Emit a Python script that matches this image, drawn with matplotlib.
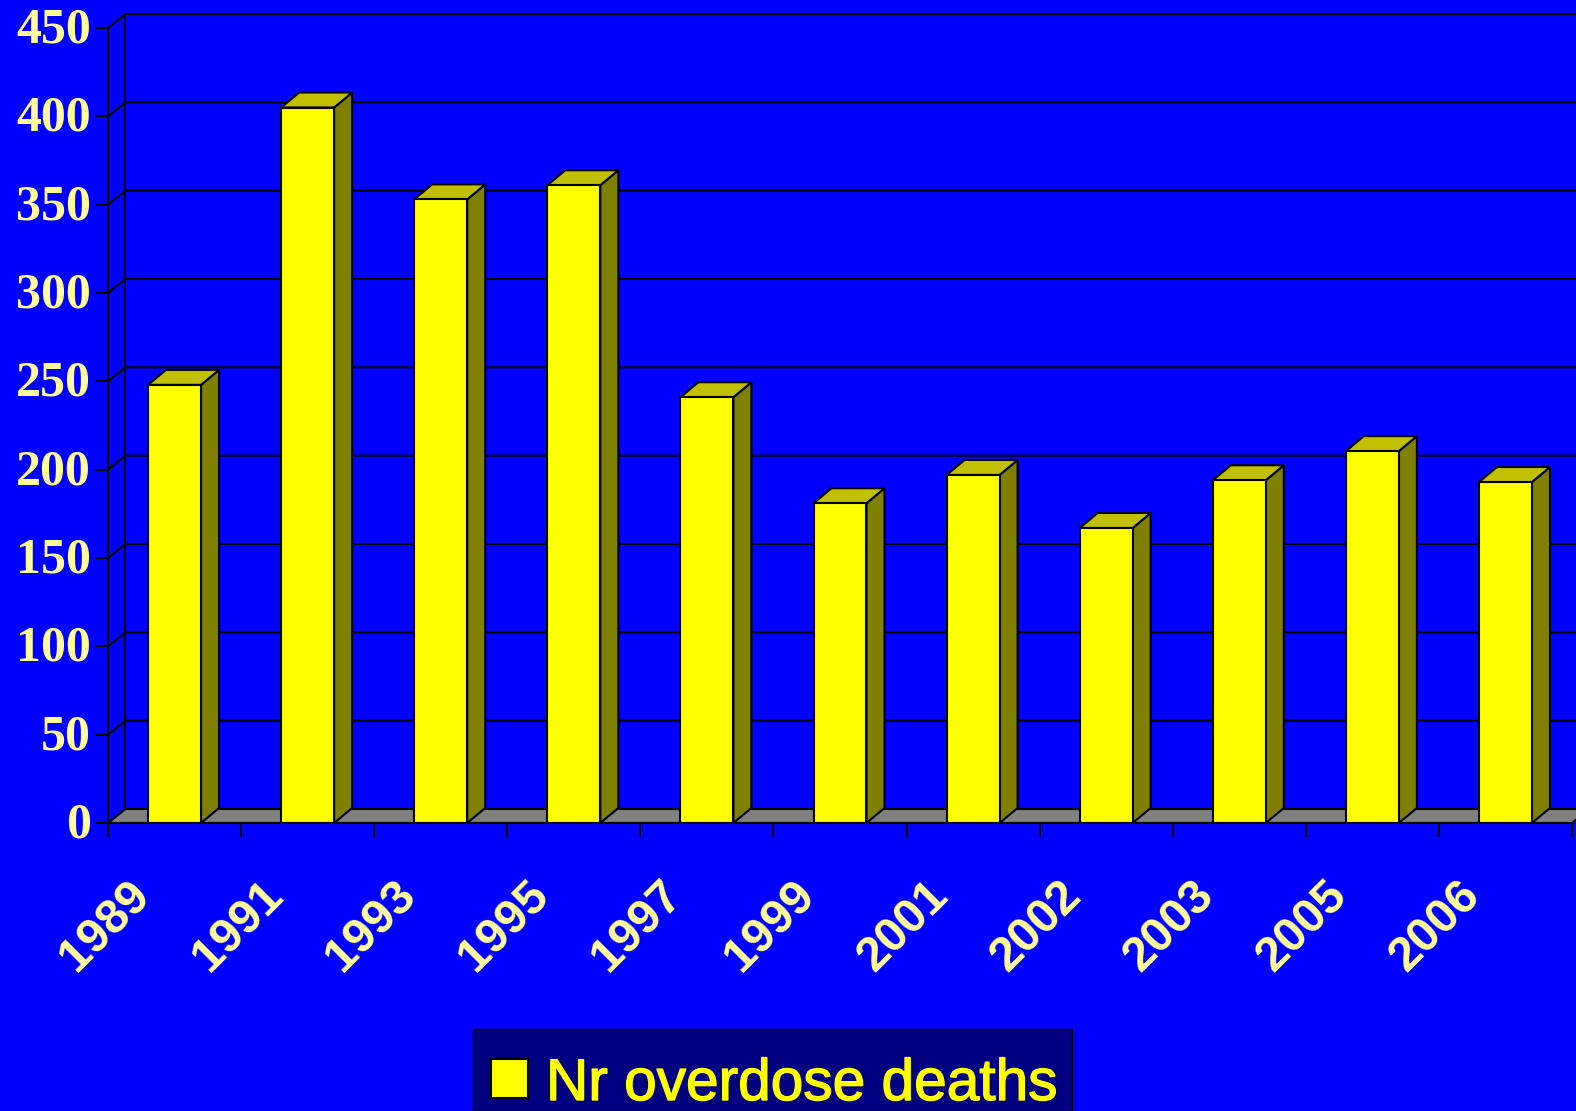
import numpy as np
import matplotlib.pyplot as plt
import matplotlib.patheffects as pe
from matplotlib.patches import Polygon, Rectangle
from matplotlib.transforms import ScaledTranslation

# Values
years = ['1989', '1991', '1993', '1995', '1997', '1999', '2001', '2002', '2003', '2005', '2006']
deaths = [248, 405, 353, 361, 241, 181, 197, 167, 194, 210.5, 193]
y_ticks = [0, 50, 100, 150, 200, 250, 300, 350, 400, 450]
series_name = 'Nr overdose deaths'

W, H = 1576, 1111
BLUE = '#0000FF'
PALE = '#FFFF99'
YELLOW = '#FFFF00'
LW = 1.5

# 3D look: how far the back wall is shifted from the front plane
PX_Y = 795 / 450
DX = 17.5 / 133.1
DY = 14 / PX_Y
BAR_DX = 18 / 133.1
BAR_DY = 15 / PX_Y

fig = plt.figure(figsize=(W / 100, H / 100), dpi=100, facecolor=BLUE)
ax = fig.add_axes([108 / W, 1 - 823 / H, 1464 / W, 795 / H], facecolor=BLUE)
ax.set_xlim(0, len(years))
ax.set_ylim(0, 450)
for name in ['top', 'right']:
    ax.spines[name].set_visible(False)
for name in ['left', 'bottom']:
    ax.spines[name].set_linewidth(LW)
    ax.spines[name].set_zorder(20)
    ax.spines[name].set_color('black')

xmax = len(years)

# Back wall lines and the diagonals on the left wall
for v in y_ticks:
    ax.plot([0, DX, xmax + DX], [v, v + DY, v + DY], color='black', lw=LW,
            clip_on=False, zorder=1, solid_joinstyle='miter')
ax.plot([DX, DX], [DY, 450 + DY], color='black', lw=LW, clip_on=False, zorder=1)

# Floor
ax.add_patch(Polygon([(0, 0), (xmax, 0), (xmax + DX, DY), (DX, DY)], closed=True,
                     facecolor='#808080', edgecolor='black', lw=LW, clip_on=False, zorder=2))

# Bars: the front from ax.bar, sides and tops from the same values
xpos = np.arange(len(years)) + 0.5
bar_w = 53 / 133.1
bars = ax.bar(xpos, deaths, width=bar_w, color=YELLOW, edgecolor='black', linewidth=LW,
              zorder=5, label=series_name)
for x, v in zip(xpos, deaths):
    left, right = x - bar_w / 2, x + bar_w / 2
    ax.add_patch(Polygon([(right, 0), (right + BAR_DX, BAR_DY), (right + BAR_DX, v + BAR_DY), (right, v)],
                         closed=True, facecolor='#808000', edgecolor='black', lw=LW,
                         clip_on=False, zorder=4))
    ax.add_patch(Polygon([(left, v), (right, v), (right + BAR_DX, v + BAR_DY), (left + BAR_DX, v + BAR_DY)],
                         closed=True, facecolor='#C0C000', edgecolor='black', lw=LW,
                         clip_on=False, zorder=4))

# Y axis
ax.set_yticks(y_ticks)
ax.tick_params(axis='y', length=9.4, width=LW, color='black', pad=3, labelcolor=PALE)
up = ScaledTranslation(0, 3 / 100, fig.dpi_scale_trans)
for lab in ax.get_yticklabels():
    lab.set_fontfamily('Liberation Serif')
    lab.set_fontweight('bold')
    lab.set_fontsize(36)
    lab.set_transform(lab.get_transform() + up)

# X axis: ticks between the bars, labels at the bar centres
ax.set_xticks(np.arange(len(years) + 1))
ax.set_xticklabels([])
ax.set_xticks(xpos, minor=True)
ax.set_xticklabels(years, minor=True, rotation=45, ha='right', va='top', color=PALE,
                   fontfamily='Liberation Sans', fontweight='bold', fontsize=34.7)
ax.tick_params(axis='x', which='major', length=10, width=LW, color='black', direction='out')
ax.tick_params(axis='x', which='minor', length=0, pad=36)
shift = ScaledTranslation(-16 / 100, 0, fig.dpi_scale_trans)
for lab in ax.get_xticklabels(minor=True):
    lab.set_transform(lab.get_transform() + shift)

# Legend box runs off the bottom of the picture like in the original
fig.add_artist(Rectangle((473 / W, 0), 599 / W, 1 - 1029 / H, transform=fig.transFigure,
                         facecolor='#000080', edgecolor='black', lw=1, zorder=30))
fig.add_artist(Rectangle((491 / W, 1 - 1098 / H), 37 / W, 39 / H, transform=fig.transFigure,
                         facecolor=YELLOW, edgecolor='black', lw=LW, zorder=31))
fig.text(546 / W, 1 - 1100 / H, series_name, color=YELLOW, family='Liberation Sans',
         fontsize=42.2, ha='left', va='baseline', zorder=31,
         path_effects=[pe.withStroke(linewidth=1.0, foreground=YELLOW)])

fig.savefig('out.png', dpi=100, facecolor=BLUE)
